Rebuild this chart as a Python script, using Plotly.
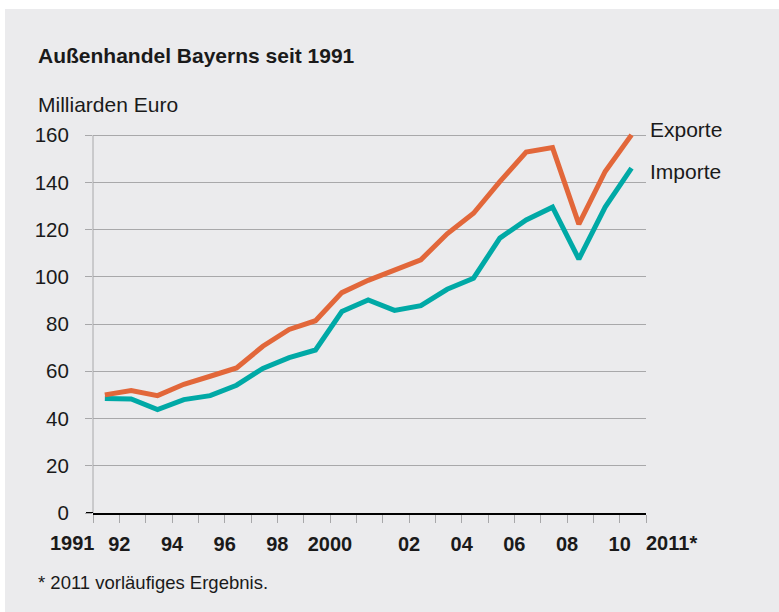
import plotly.graph_objects as go

# ---- data ----
years = list(range(1991, 2012))
exporte = [50.0, 51.8, 49.7, 54.5, 57.9, 61.4, 70.6, 77.7, 81.4, 93.3, 98.5,
           102.7, 107.2, 118.2, 126.9, 140.3, 152.8, 154.7, 122.3, 144.6, 160.1]
importe = [48.5, 48.3, 43.8, 48.0, 49.7, 54.1, 61.2, 65.8, 69.0, 85.3, 90.2,
           85.8, 87.8, 94.7, 99.4, 116.4, 124.1, 129.5, 107.5, 129.5, 146.0]
tick_labels = ["92", "94", "96", "98", "2000", "02", "04", "06", "08", "10"]
tick_slots = [1, 3, 5, 7, 9, 12, 14, 16, 18, 20]
edge_labels = ["1991", "2011*"]
y_ticks = [0, 20, 40, 60, 80, 100, 120, 140, 160]

title = "Außenhandel Bayerns seit 1991"
unit = "Milliarden Euro"
footnote = "* 2011 vorläufiges Ergebnis."

# ---- styling ----
ORANGE = "#e2673a"
TEAL = "#00a9a6"
BG = "#ebebed"
GRID = "#a8a8aa"
FONT = "Liberation Sans, Arial, sans-serif"

x0 = years[0] - 0.45
n_slots = len(years)
tickvals = [x0 + k for k in range(n_slots + 1)]
ticktext = [""] * (n_slots + 1)
for s, lab in zip(tick_slots, tick_labels):
    ticktext[s] = lab

fig = go.Figure()
fig.add_trace(go.Scatter(x=years, y=importe, mode="lines", name="Importe",
                         line=dict(color=TEAL, width=5)))
fig.add_trace(go.Scatter(x=years, y=exporte, mode="lines", name="Exporte",
                         line=dict(color=ORANGE, width=5)))

L, R, B = 93, 133, 99
H, W = 612, 779
plot_h = H - B - 135
ymax = 163
T = int(round(H - B - plot_h * ymax / 160))

def py(pix):  # pixel y -> paper y
    return (H - B - pix) / (H - B - T)

def px(pix):
    return (pix - L) / (W - L - R)

fig.update_layout(
    width=W, height=H,
    margin=dict(l=L, r=R, t=T, b=B, pad=0),
    paper_bgcolor="white",
    plot_bgcolor=BG,
    showlegend=False,
    font=dict(family=FONT, color="#1a1a1a"),
    xaxis=dict(range=[x0, x0 + n_slots], tickmode="array", tickvals=tickvals,
               ticktext=ticktext, ticks="outside", ticklen=8, tickcolor=GRID,
               tickwidth=1, showgrid=False, zeroline=False, showline=True,
               linecolor="black", linewidth=2, automargin=False,
               tickfont=dict(size=20, family=FONT, color="#1a1a1a", weight="bold"),
               ticklabelstandoff=4),
    yaxis=dict(range=[0, ymax], tickmode="array", tickvals=y_ticks,
               ticks="outside", ticklen=7, tickcolor=GRID, tickwidth=1,
               showgrid=True, gridcolor=GRID, gridwidth=1, zeroline=False,
               showline=False, automargin=False,
               tickfont=dict(size=20.5, family=FONT, color="#1a1a1a"),
               ticklabelstandoff=12),
)

shapes = [
    # gray background panel
    dict(type="rect", xref="paper", yref="paper", x0=px(5), x1=px(790),
         y0=py(620), y1=py(9), fillcolor=BG, line=dict(width=0), layer="below"),
    # y axis line
    dict(type="line", xref="paper", yref="y", x0=0, x1=0, y0=0, y1=160,
         line=dict(color=GRID, width=1)),
    # zero line extension
    dict(type="line", xref="paper", yref="y", x0=px(86), x1=0, y0=0, y1=0,
         line=dict(color="black", width=2)),
]
fig.update_layout(shapes=shapes)

ann = [
    dict(text="<b>" + title + "</b>", x=px(36), y=py(55), xanchor="left",
         yanchor="middle", font=dict(size=21)),
    dict(text=unit, x=px(36), y=py(104), xanchor="left", yanchor="middle",
         font=dict(size=21)),
    dict(text=footnote, x=px(36), y=py(582), xanchor="left", yanchor="middle",
         font=dict(size=18.5)),
    dict(text="Exporte", x=px(648), y=py(129), xanchor="left", yanchor="middle",
         font=dict(size=21)),
    dict(text="Importe", x=px(648), y=py(171), xanchor="left", yanchor="middle",
         font=dict(size=21)),
]
edge_px = [72, 671.6]
for lab, p in zip(edge_labels, edge_px):
    ann.append(dict(text="<b>" + lab + "</b>", x=px(p), y=py(543),
                    xanchor="center", yanchor="middle", font=dict(size=20)))
for a in ann:
    a.update(xref="paper", yref="paper", showarrow=False)
fig.update_layout(annotations=ann)

fig.write_html("out.html", config={"displayModeBar": False},
               post_script="document.body.style.margin='0';document.body.style.overflow='hidden';")
